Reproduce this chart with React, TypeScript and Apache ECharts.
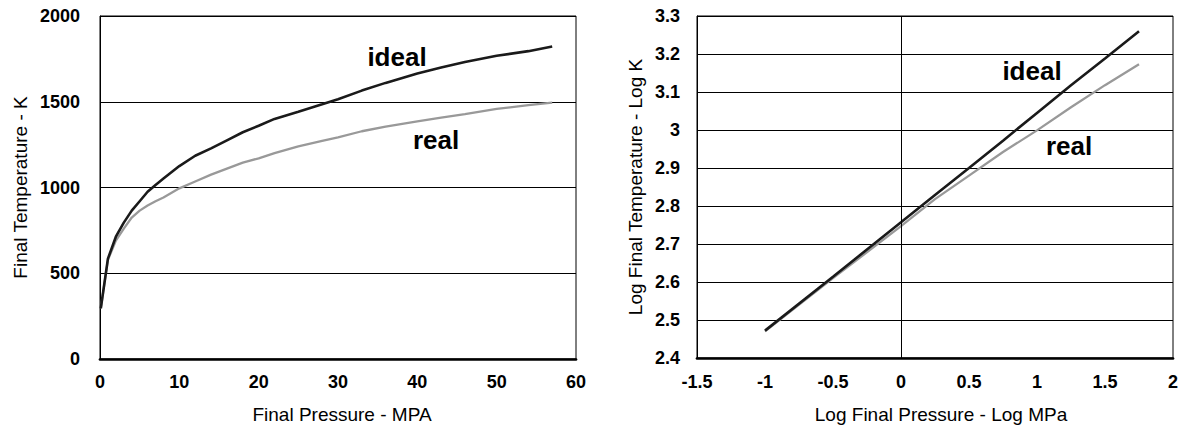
import React, { useEffect, useRef } from "react";
import * as echarts from "echarts";

// Left chart: Final pressure (MPa) vs final temperature (K)
const pressure = [0.1, 1, 2, 3, 4, 5, 6, 7, 8, 10, 12, 14, 16, 18, 20, 22, 25, 28, 30, 33, 36, 40, 43, 46, 50, 54, 57];
const idealTemp = [295, 585, 713, 795, 865, 920, 975, 1015, 1052, 1125, 1185, 1228, 1275, 1322, 1360, 1400, 1442, 1485, 1515, 1565, 1610, 1665, 1700, 1732, 1768, 1795, 1822];
const realTemp = [295, 578, 690, 760, 825, 865, 895, 920, 942, 995, 1035, 1075, 1110, 1145, 1170, 1200, 1240, 1272, 1292, 1328, 1355, 1385, 1407, 1428, 1458, 1480, 1495];

// Right chart: log-log
const logPressure = [-1, -0.5, 0, 0.25, 0.5, 0.75, 1, 1.25, 1.5, 1.75];
const logIdeal = [2.472, 2.614, 2.757, 2.829, 2.9, 2.972, 3.045, 3.118, 3.188, 3.26];
const logReal = [2.47, 2.61, 2.747, 2.818, 2.88, 2.942, 2.999, 3.06, 3.118, 3.173];

const FONT = "'Liberation Sans', Arial, sans-serif";

const zip = (xs: number[], ys: number[]) => xs.map((x, i) => [x, ys[i]]);
const fmt = (v: number) => String(Math.round(v * 100) / 100);

export default function App() {
  const ref = useRef<HTMLDivElement>(null);
  useEffect(() => {
    if (!ref.current) return;
    const chart = echarts.init(ref.current, null, { renderer: "svg" });
    const tickLabel = { color: "#000", fontWeight: "bold" as const, fontSize: 18, fontFamily: FONT, formatter: fmt };
    const nameStyle = { color: "#000", fontSize: 19, fontFamily: FONT };
    const labelText = (text: string, x: number, y: number) => ({
      type: "text",
      x,
      y,
      silent: true,
      style: {
        text,
        fill: "#000",
        fontSize: 26,
        fontWeight: "bold",
        fontFamily: FONT,
        align: "center",
        verticalAlign: "middle",
        textAlign: "center",
        textVerticalAlign: "middle",
      },
    });
    chart.setOption({
      animation: false,
      backgroundColor: "#fff",
      grid: [
        { left: 100, top: 16, width: 476, height: 350, show: true, borderColor: "#000", borderWidth: 1, backgroundColor: "transparent" },
        { left: 697, top: 16, width: 476, height: 348.5, show: true, borderColor: "#000", borderWidth: 1, backgroundColor: "transparent" },
      ],
      xAxis: [
        {
          gridIndex: 0, type: "value", min: 0, max: 60, interval: 10,
          axisLine: { show: true, onZero: false, lineStyle: { color: "#000", width: 2.7 } },
          axisTick: { show: false }, splitLine: { show: false },
          axisLabel: { ...tickLabel, margin: 14 },
          name: "Final Pressure - MPA", nameLocation: "middle", nameGap: 46,
          nameTextStyle: { ...nameStyle, padding: [0, 0, 0, 8] },
        },
        {
          gridIndex: 1, type: "value", min: -1.5, max: 2, interval: 0.5,
          axisLine: { show: true, onZero: false, lineStyle: { color: "#000", width: 2.7 } },
          axisTick: { show: false }, splitLine: { show: false },
          axisLabel: { ...tickLabel, margin: 15 },
          name: "Log Final Pressure - Log MPa", nameLocation: "middle", nameGap: 47,
          nameTextStyle: { ...nameStyle, padding: [0, 0, 0, 12] },
        },
      ],
      yAxis: [
        {
          gridIndex: 0, type: "value", min: 0, max: 2000, interval: 500,
          axisLine: { show: true, onZero: false, lineStyle: { color: "#000", width: 1 } },
          axisTick: { show: false },
          splitLine: { show: true, lineStyle: { color: "#000", width: 1 } },
          axisLabel: { ...tickLabel, margin: 20 },
          name: "Final Temperature - K", nameLocation: "middle", nameGap: 70,
          nameTextStyle: nameStyle,
        },
        {
          gridIndex: 1, type: "value", min: 2.4, max: 3.3, interval: 0.1,
          axisLine: { show: true, onZero: false, lineStyle: { color: "#000", width: 1 } },
          axisTick: { show: false },
          splitLine: { show: true, lineStyle: { color: "#000", width: 1 } },
          axisLabel: { ...tickLabel, margin: 17 },
          name: "Log Final Temperature - Log K", nameLocation: "middle", nameGap: 52,
          nameTextStyle: nameStyle,
        },
      ],
      series: [
        {
          name: "real", type: "line", xAxisIndex: 0, yAxisIndex: 0,
          data: zip(pressure, realTemp), showSymbol: false, symbol: "none",
          lineStyle: { color: "#999999", width: 2.3 }, z: 3,
        },
        {
          name: "ideal", type: "line", xAxisIndex: 0, yAxisIndex: 0,
          data: zip(pressure, idealTemp), showSymbol: false, symbol: "none",
          lineStyle: { color: "#1a1a1a", width: 2.6 }, z: 4,
        },
        {
          name: "real log", type: "line", xAxisIndex: 1, yAxisIndex: 1,
          data: zip(logPressure, logReal), showSymbol: false, symbol: "none",
          lineStyle: { color: "#999999", width: 2.3 }, z: 3,
          markLine: {
            silent: true, symbol: "none", label: { show: false },
            lineStyle: { color: "#000", width: 1, type: "solid" },
            data: [{ xAxis: 0 }],
          },
        },
        {
          name: "ideal log", type: "line", xAxisIndex: 1, yAxisIndex: 1,
          data: zip(logPressure, logIdeal), showSymbol: false, symbol: "none",
          lineStyle: { color: "#1a1a1a", width: 2.6 }, z: 4,
        },
      ],
      graphic: [
        labelText("ideal", 397, 57),
        labelText("real", 436, 140),
        labelText("ideal", 1032, 71),
        labelText("real", 1069, 146),
      ],
    });
    return () => chart.dispose();
  }, []);
  return (
    <div
      ref={ref}
      style={{ position: "fixed", left: 0, top: 0, width: 1183, height: 429, background: "#fff" }}
    />
  );
}
